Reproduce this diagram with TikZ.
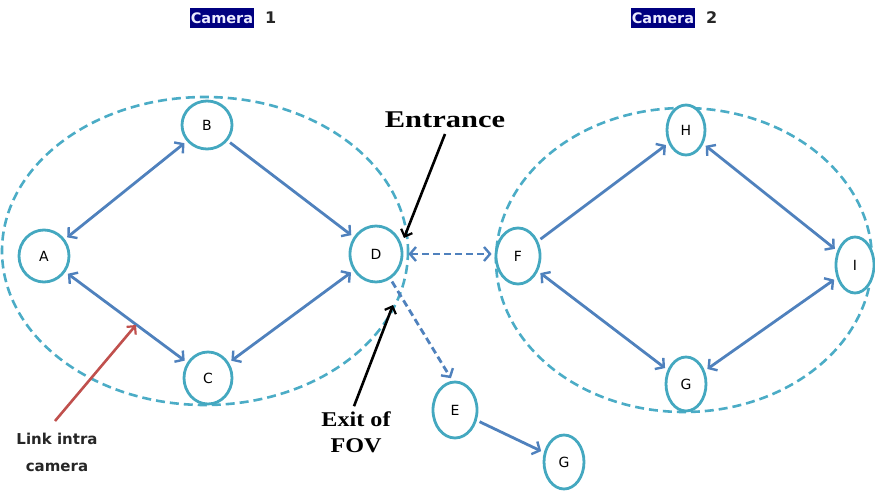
\documentclass[tikz,border=0pt]{standalone}
\usepackage{fontspec}
\setmainfont{DejaVu Sans}
\newfontfamily\labelserif{Liberation Serif}
\newfontfamily\labelsans{DejaVu Sans}
\usetikzlibrary{shapes.geometric,arrows.meta}
\definecolor{nodeteal}{RGB}{68,168,192}
\definecolor{fovteal}{RGB}{75,172,198}
\definecolor{linkblue}{RGB}{79,129,189}
\definecolor{linkred}{RGB}{192,80,77}
\definecolor{camnavy}{RGB}{0,0,128}
\tikzset{
  camnode/.style={ellipse, draw=nodeteal, line width=2.8pt, fill=white, inner sep=0pt,
    font=\labelsans\fontsize{14}{16}\selectfont},
  fov/.style={draw=fovteal, line width=2.6pt, dash pattern=on 9pt off 5pt},
  link/.style={draw=linkblue, line width=2.8pt, shorten <=3pt, shorten >=3pt},
  onelink/.style={link, -{Straight Barb[length=6pt,width=14pt,line width=2.4pt]}},
  twolink/.style={link, {Straight Barb[length=6pt,width=14pt,line width=2.4pt]}-{Straight Barb[length=6pt,width=14pt,line width=2.4pt]}},
  dashlink/.style={dash pattern=on 7pt off 4pt},
  note/.style={-{Straight Barb[length=6pt,width=12pt,line width=2.2pt]}, line width=2.6pt},
  camlabel/.style={font=\labelsans\bfseries\fontsize{14.5}{18}\selectfont, inner sep=0pt}
}
\begin{document}
\begin{tikzpicture}[x=1pt,y=-1pt]
\useasboundingbox (0,0) rectangle (875,494);

% camera titles
\node[camlabel, fill=camnavy, text=white!92!blue, minimum width=64pt, minimum height=20pt] (cam1) at (222,18) {Camera};
\node[camlabel, anchor=west, font=\labelsans\bfseries\fontsize{16}{18}\selectfont, text=black!85] (cam1n) at (265,18) {1};
\node[camlabel, fill=camnavy, text=white!92!blue, minimum width=64pt, minimum height=20pt] (cam2) at (663,18) {Camera};
\node[camlabel, anchor=west, font=\labelsans\bfseries\fontsize{16}{18}\selectfont, text=black!85] (cam2n) at (706,18) {2};

% fields of view
\draw[fov] (205,251) ellipse [x radius=203, y radius=154];
\draw[fov] (684,260) ellipse [x radius=188, y radius=152];

% camera 1 nodes
\node[camnode, minimum width=50pt, minimum height=52pt] (A) at (44,256) {A};
\node[camnode, minimum width=50pt, minimum height=48pt] (B) at (207,125) {B};
\node[camnode, minimum width=48pt, minimum height=52pt] (C) at (208,378) {C};
\node[camnode, minimum width=52pt, minimum height=56pt] (D) at (376,254) {D};

% camera 2 nodes
\node[camnode, minimum width=44pt, minimum height=56pt] (F) at (518,256) {F};
\node[camnode, minimum width=38pt, minimum height=50pt] (H) at (686,130) {H};
\node[camnode, minimum width=38pt, minimum height=56pt] (I) at (855,265) {I};
\node[camnode, minimum width=40pt, minimum height=54pt] (G1) at (686,384) {G};

% outside nodes
\node[camnode, minimum width=44pt, minimum height=56pt] (E) at (455,410) {E};
\node[camnode, minimum width=40pt, minimum height=54pt] (G2) at (564,462) {G};

% links inside camera 1
\draw[twolink] (A) -- (B);
\draw[onelink] (B) -- (D);
\draw[twolink] (A) -- (C);
\draw[twolink] (C) -- (D);

% links inside camera 2
\draw[onelink] (F) -- (H);
\draw[twolink] (H) -- (I);
\draw[twolink] (I) -- (G1);
\draw[twolink] (F) -- (G1);

% links between views
\draw[twolink, dashlink, shorten <=5pt] (D.east) -- (F.west |- D.east);
\draw[onelink, dashlink] (D.-60) -- (E.95);
\draw[onelink] (E) -- (G2);

% annotations
\node[font=\labelserif\bfseries\fontsize{24}{26}\selectfont, inner sep=1pt] (entr) at (445,120) {\scalebox{1.27}[1]{Entrance}};
\coordinate (entrpt) at (404,238);
\draw[note] (445,134) -- (entrpt);

\node[font=\labelserif\bfseries\fontsize{21}{26}\selectfont, align=center, inner sep=1pt] (exit) at (356,432) {\scalebox{1.15}[1]{Exit of}\\\scalebox{1.15}[1]{FOV}};
\coordinate (exitpt) at (393,305);
\draw[note] (exit.north) ++(-2,-4) -- (exitpt);

\node[font=\labelsans\bfseries\fontsize{15}{27}\selectfont, align=center, text=black!85, inner sep=1pt] (intra) at (57,452) {Link intra\\camera};
\coordinate (intrapt) at (136,325);
\draw[note, draw=linkred] (55,421) -- (intrapt);
\end{tikzpicture}
\end{document}
